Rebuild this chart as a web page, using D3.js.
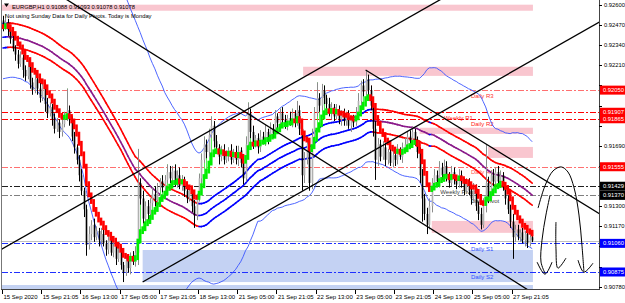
<!DOCTYPE html>
<html lang="en">
<head>
<meta charset="utf-8">
<title>EURGBP H1</title>
<script src="https://cdn.jsdelivr.net/npm/d3@7"></script>
<style>
  body { margin:0; background:#fff; }
  svg { display:block; font-family:"Liberation Sans", Arial, sans-serif; }
</style>
</head>
<body>
<div id="main"></div>
<script>
// ---- data ----
const symbol = "EURGBP,H1";
const headerOHLC = [0.91088, 0.91093, 0.91078, 0.91078];
const note = "Not using Sunday Data for Daily Pivots.  Today is Monday";

const firstOpen = 0.9250;
const closes = [
  .9246,.9249,.9244,.9238,.9232,.9228,.9222,.9226,.9218,.9214,
  .9220,.9210,.9205,.9212,.9206,.9200,.9208,.9196,.9190,.9194,
  .9186,.9180,.9184,.9178,.9183,.9188,.9192,.9186,.9175,.9168,
  .9160,.9150,.9140,.9128,.9105,.9112,.9118,.9110,.9114,.9108,
  .9112,.9106,.9102,.9108,.9100,.9104,.9096,.9100,.9092,.9087,
  .9095,.9090,.9098,.9094,.9100,.9145,.9135,.9122,.9130,.9125,
  .9132,.9138,.9134,.9142,.9146,.9142,.9147,.9152,.9148,.9153,
  .9146,.9150,.9143,.9147,.9140,.9135,.9140,.9130,.9124,.9135,
  .9148,.9160,.9170,.9165,.9176,.9182,.9172,.9168,.9162,.9166,
  .9160,.9163,.9166,.9160,.9164,.9160,.9166,.9158,.9148,.9170,
  .9190,.9178,.9170,.9174,.9168,.9175,.9172,.9178,.9174,.9180,
  .9177,.9188,.9184,.9190,.9186,.9183,.9187,.9184,.9190,.9185,
  .9192,.9180,.9150,.9160,.9170,.9145,.9175,.9190,.9200,.9195,
  .9205,.9200,.9196,.9190,.9194,.9188,.9192,.9186,.9190,.9185,
  .9188,.9182,.9186,.9184,.9190,.9198,.9208,.9204,.9212,.9205,
  .9195,.9180,.9160,.9170,.9162,.9168,.9160,.9165,.9158,.9163,
  .9160,.9166,.9162,.9168,.9170,.9175,.9172,.9178,.9172,.9165,
  .9150,.9135,.9125,.9118,.9130,.9145,.9150,.9146,.9155,.9150,
  .9156,.9150,.9145,.9152,.9148,.9144,.9150,.9146,.9140,.9145,
  .9140,.9135,.9142,.9130,.9125,.9118,.9130,.9145,.9135,.9150,
  .9146,.9152,.9146,.9150,.9142,.9135,.9128,.9120,.9110,.9115,
  .9110,.9113,.9108,.9112,.9106,.9110,.91078
];
// wicks in pips above max(open,close) / below min(open,close)
const upWick = [
  3,5,2,3,4,2,3,4,2,3, 4,2,3,5,2,4,3,2,4,3, 2,4,3,2,5,3,14,3,2,3, 2,3,4,2,3,5,3,4,3,2,
  4,3,2,5,3,4,2,3,4,2, 3,4,2,3,4,22,3,5,3,4, 3,4,5,3,2,4,3,5,4,3, 4,3,5,3,2,4,3,2,4,3,
  3,4,5,3,4,6,3,4,2,3, 4,3,2,4,3,5,3,2,4,5, 7,3,4,2,3,4,3,5,2,4, 3,4,2,3,4,3,2,4,3,2,
  6,3,4,5,3,4,5,4,10,3, 4,3,2,4,3,2,4,3,2,3, 3,4,2,3,4,5,3,4,6,3, 3,4,5,4,3,4,3,2,4,3,
  3,4,2,3,4,3,4,3,2,3, 3,4,3,4,5,3,4,3,4,3, 4,3,2,4,3,2,4,3,2,3, 3,4,3,2,3,4,5,25,4,3,
  4,3,4,3,2,3,2,3,5,3, 3,2,3,2,3,2,1
];
const dnWick = [
  3,2,4,3,2,4,3,2,5,3, 2,4,3,2,4,3,2,5,3,2, 4,3,2,4,3,2,3,4,3,4, 3,4,3,5,7,3,4,3,2,4,
  3,2,4,3,2,3,4,2,3,6, 2,3,4,2,3,8,4,3,2,4, 3,2,4,3,2,3,4,2,3,2, 3,4,2,3,4,3,2,4,8,3,
  2,3,2,4,3,2,4,3,5,3, 3,2,4,3,2,3,4,3,4,2, 3,4,3,2,4,3,2,3,4,2, 3,2,4,3,2,3,4,2,3,4,
  3,4,10,5,3,5,4,3,2,4, 3,4,3,2,4,3,2,3,4,3, 3,2,4,3,2,3,4,3,2,4, 3,5,13,4,3,2,4,3,2,3,
  4,3,2,4,3,2,3,4,3,4, 5,15,4,6,3,4,3,2,4,3, 2,4,3,2,4,3,2,4,3,2, 3,4,2,3,4,3,2,4,3,2,
  3,2,4,3,2,4,3,4,14,3, 2,3,2,4,3,2,1
];
// averages of the bars before the left edge: high, close, low, close std
const preMeans = [0.9248, 0.9239, 0.9232];
const preStd = 0.00135;

const yTicks = [0.92600,0.92470,0.92340,0.92210,0.92080,0.91950,0.91820,0.91690,
                0.91560,0.91430,0.91300,0.91170,0.91040,0.90910,0.90780];
const xLabels = ["15 Sep 2020","15 Sep 21:05","16 Sep 13:00","17 Sep 05:00","17 Sep 21:05",
  "18 Sep 13:00","21 Sep 05:00","21 Sep 21:05","22 Sep 13:00","23 Sep 05:00",
  "23 Sep 21:05","24 Sep 13:00","25 Sep 05:00","27 Sep 21:05"];
const xLabelBars = [0,16,32,48,64,80,96,112,128,144,160,176,192,208];

const pivotNames  = ["Daily R3","Weekly R1","Daily R2","Daily R1","Weekly Pivot","Daily Pivot","Daily S1","Daily S2"];
const pivotValues = [0.92050, 0.91907, 0.91865, 0.91555, 0.91429, 0.91370, 0.91060, 0.90875];
const bidPrice = 0.91078;

// rectangles: [fromBar, toBar, top price, bottom price]
const pinkZones = [[-3,216.3,0.92602,0.92563],[122.5,216.3,0.92201,0.92142],[170,216.3,0.91807,0.91767],
                   [198,216.3,0.91683,0.91612],[175,216.3,0.91205,0.91128]];
const blueZones = [[57,216.3,0.91017,0.90810],[-3,216.3,0.90791,0.90700]];

// trend lines: [bar, price] pairs
const trendA = [[26.1,0.92634],[213.1,0.90771]];
const trendB = [[-1.2,0.91017],[178.4,0.92634]];
const trendC = [[57,0.90810],[243.7,0.92492]];
const trendD = [[148,0.92180],[243.7,0.91249]];

// freehand strokes on the right [bar, price]
const strokes = [
  [[218.4,.91288],[221.2,.91431],[224.5,.91528],[227.8,.91554],[230.6,.91521],[233.1,.91418],[235.1,.91243],[236.3,.91049],[237.1,.90880]],
  [[234.7,.90952],[237.1,.90874],[240.8,.90932]],
  [[223.3,.91372],[221.6,.91243],[220,.91081],[219.6,.90939],[221.2,.90868]],
  [[218,.90939],[221.2,.90861],[224.1,.90939]],
  [[225.7,.91198],[225.7,.91029],[226.5,.90900],[229.8,.90965]]
];

// ---- derived series ----
const N = closes.length, pip = 0.0001, P = 50;
const opens = closes.map((c,i) => i === 0 ? firstOpen : closes[i-1]);
const highs = closes.map((c,i) => Math.max(opens[i], c) + upWick[i]*pip);
const lows  = closes.map((c,i) => Math.min(opens[i], c) - dnWick[i]*pip);

function sma(arr, pre) {
  return arr.map((v,i) => {
    const k = Math.max(0, P-(i+1));
    return (k*pre + d3.sum(arr.slice(Math.max(0,i-P+1), i+1))) / P;
  });
}
const maHigh = sma(highs, preMeans[0]), maClose = sma(closes, preMeans[1]), maLow = sma(lows, preMeans[2]);
const bbStd = closes.map((v,i) => {
  const k = Math.max(0, P-(i+1));
  const sq = d3.sum(closes.slice(Math.max(0,i-P+1), i+1), d => d*d);
  const ex2 = (k*(preStd*preStd + preMeans[1]*preMeans[1]) + sq) / P;
  return Math.sqrt(Math.max(0, ex2 - maClose[i]*maClose[i]));
});
const bbUp = maClose.map((m,i) => m + 2*bbStd[i]);
const bbDn = maClose.map((m,i) => m - 2*bbStd[i]);
const ema = [];
closes.forEach((c,i) => ema.push(i === 0 ? c : ema[i-1] + (c-ema[i-1])*2/9));

// ---- chart ----
const W = 625, H = 303;
const svg = d3.select("#main").append("svg").attr("width", W).attr("height", H);
svg.append("rect").attr("width", W).attr("height", H).attr("fill", "#fff");

const x = d3.scaleLinear().domain([0, 216]).range([3, 3 + 216*2.45]);
const y = d3.scaleLinear().domain([0.9078, 0.9260]).range([286.7, 5]);

svg.append("clipPath").attr("id","plot").append("rect")
  .attr("x",2).attr("y",0).attr("width",597).attr("height",289);
const g = svg.append("g").attr("clip-path","url(#plot)");

// zones
g.selectAll("rect.pink").data(pinkZones).enter().append("rect").attr("class","pink")
  .attr("x", d => x(d[0])).attr("width", d => x(d[1]) - x(d[0]))
  .attr("y", d => y(d[2])).attr("height", d => y(d[3]) - y(d[2]))
  .attr("fill", "#f9c6cf");
g.selectAll("rect.blue").data(blueZones).enter().append("rect").attr("class","blue")
  .attr("x", d => x(d[0])).attr("width", d => x(d[1]) - x(d[0]))
  .attr("y", d => y(d[2])).attr("height", d => y(d[3]) - y(d[2]))
  .attr("fill", "#c4d2f3");

// pivot lines
const pivColor = {"Daily R3":"#ff7070","Weekly R1":"#ff0000","Daily R2":"#ff0000","Daily R1":"#ff7070",
                  "Weekly Pivot":"#202020","Daily Pivot":"#808080","Daily S1":"#2030ff","Daily S2":"#2030ff"};
const tagColor = {"Daily R3":"#ff0000","Weekly R1":"#ff0000","Daily R2":"#ff0000","Daily R1":"#ff0000",
                  "Weekly Pivot":"#000","Daily Pivot":"#000","Daily S1":"#0000ff","Daily S2":"#0000ff"};
const txtColor = {"Daily R3":"#ff3030","Weekly R1":"#ff2020","Daily R2":"#ff2020","Daily R1":"#ff5050",
                  "Weekly Pivot":"#404040","Daily Pivot":"#404040","Daily S1":"#3050ff","Daily S2":"#3050ff"};
const labelBar = {"Weekly R1":180,"Weekly Pivot":178.5};
g.selectAll("line.piv").data(pivotNames).enter().append("line").attr("class","piv")
  .attr("x1", 2).attr("x2", 599)
  .attr("y1", (d,i) => Math.round(y(pivotValues[i]))+0.5).attr("y2", (d,i) => Math.round(y(pivotValues[i]))+0.5)
  .attr("stroke", d => pivColor[d]).attr("stroke-width", 1).attr("stroke-dasharray","6,2,2,2");
g.append("line").attr("x1",2).attr("x2",599)
  .attr("y1", Math.round(y(bidPrice))+0.5).attr("y2", Math.round(y(bidPrice))+0.5)
  .attr("stroke","#c0c0c0");
g.selectAll("text.piv").data(pivotNames).enter().append("text").attr("class","piv")
  .attr("x", d => x(labelBar[d] || 191))
  .attr("y", (d,i) => y(pivotValues[i]) + 7.5)
  .attr("font-size", 6).attr("fill", d => txtColor[d]).text(d => d);

// bollinger
const lineGen = arr => d3.line().x((d,i) => x(i)).y(d => y(d))(arr);
g.append("path").attr("d", lineGen(bbUp)).attr("fill","none").attr("stroke","#3a55ff").attr("stroke-width",0.9);
g.append("path").attr("d", lineGen(bbDn)).attr("fill","none").attr("stroke","#3a55ff").attr("stroke-width",0.9);

// wave lines, red when falling, blue when rising
const segs = d3.range(1, N);
[[maHigh,"#ff0000","#0000ff"],[maLow,"#ff0000","#0000ff"],[maClose,"#8a1a8a","#0000ff"]].forEach(([arr, down, up]) => {
  g.append("g").selectAll("line").data(segs).enter().append("line")
    .attr("x1", i => x(i-1)).attr("x2", i => x(i))
    .attr("y1", i => y(arr[i-1])).attr("y2", i => y(arr[i]))
    .attr("stroke", i => maClose[i] >= maClose[i-1] ? up : down)
    .attr("stroke-width", 1.6).attr("stroke-linecap","round");
});

// thin colour histogram from the fast line to the bar high
const emaUp = i => i === 0 ? false : ema[i] >= ema[i-1];
g.append("g").selectAll("line").data(d3.range(N).filter(i => highs[i] > ema[i])).enter().append("line")
  .attr("x1", i => Math.round(x(i))+0.5).attr("x2", i => Math.round(x(i))+0.5)
  .attr("y1", i => y(ema[i])).attr("y2", i => y(highs[i]))
  .attr("stroke", i => emaUp(i) ? "#55ee55" : "#ff6a6a").attr("stroke-width", 1);

// candles
const cg = g.append("g").selectAll("g").data(d3.range(N)).enter().append("g");
cg.append("line")
  .attr("x1", i => Math.round(x(i))+0.5).attr("x2", i => Math.round(x(i))+0.5)
  .attr("y1", i => y(highs[i])).attr("y2", i => y(lows[i]))
  .attr("stroke", i => closes[i] >= opens[i] ? "#8c8c8c" : "#000").attr("stroke-width", 1);
cg.append("rect")
  .attr("x", i => Math.round(x(i)) - 0.3).attr("width", 1.6)
  .attr("y", i => y(Math.max(opens[i], closes[i])))
  .attr("height", i => Math.max(1, Math.abs(y(opens[i]) - y(closes[i]))))
  .attr("fill", i => closes[i] >= opens[i] ? "#b0b0b0" : "#000");

// thick fast line, stepped like a histogram
g.append("g").selectAll("rect").data(d3.range(N)).enter().append("rect")
  .attr("x", i => x(i) - 1.3).attr("width", 2.6)
  .attr("y", i => Math.min(y(ema[i]), y(ema[Math.max(0,i-1)])) - 2.4)
  .attr("height", i => Math.abs(y(ema[i]) - y(ema[Math.max(0,i-1)])) + 4.8)
  .attr("fill", i => emaUp(i) ? "#00ee00" : "#ff0000");

// trend lines
function slopeOf(t) { return (t[1][1]-t[0][1]) / (t[1][0]-t[0][0]); }
function drawTrend(t, fromStart) {
  const s = slopeOf(t);
  const b0 = fromStart ? t[0][0] : x.invert(0), b1 = x.invert(600);
  g.append("line")
    .attr("x1", x(b0)).attr("y1", y(t[0][1] + s*(b0 - t[0][0])))
    .attr("x2", x(b1)).attr("y2", y(t[0][1] + s*(b1 - t[0][0])))
    .attr("stroke", "#000").attr("stroke-width", 1.3);
}
drawTrend(trendA, false);
drawTrend(trendB, false);
drawTrend(trendC, true);
drawTrend(trendD, true);

// freehand strokes
strokes.forEach(s => {
  g.append("path").attr("d", d3.line().x(d => x(d[0])).y(d => y(d[1])).curve(d3.curveCatmullRom)(s))
    .attr("fill","none").attr("stroke","#000").attr("stroke-width",1);
});

// frame
svg.append("line").attr("x1",1.5).attr("x2",1.5).attr("y1",0).attr("y2",289.5).attr("stroke","#777");
svg.append("line").attr("x1",1).attr("x2",600).attr("y1",289.5).attr("y2",289.5).attr("stroke","#444");
svg.append("line").attr("x1",599.5).attr("x2",599.5).attr("y1",0).attr("y2",290).attr("stroke","#444");

// y axis ticks; labels covered by a price tag are not drawn (as in the terminal)
const freeTicks = yTicks.filter(t => d3.min(pivotValues, p => Math.abs(y(p) - y(t))) > 7.5);
const ya = svg.append("g");
ya.selectAll("line").data(yTicks).enter().append("line")
  .attr("x1",599).attr("x2",602).attr("y1", d => Math.round(y(d))+0.5).attr("y2", d => Math.round(y(d))+0.5)
  .attr("stroke","#000");
ya.selectAll("text").data(freeTicks).enter().append("text")
  .attr("x",604).attr("y", d => y(d) + 2).attr("font-size",5.8).attr("fill","#000")
  .text(d => d.toFixed(5));

// price tags for pivots
const tg = svg.append("g").selectAll("g").data(pivotNames).enter().append("g");
tg.append("rect").attr("x",600).attr("width",25)
  .attr("y", (d,i) => y(pivotValues[i]) - 4.5).attr("height", 9)
  .attr("fill", d => tagColor[d]);
tg.append("text").attr("x",603).attr("y", (d,i) => y(pivotValues[i]) + 2.1)
  .attr("font-size",5.8).attr("fill","#fff").text((d,i) => pivotValues[i].toFixed(5));

// x axis labels
const xa = svg.append("g");
xa.selectAll("line").data(xLabelBars).enter().append("line")
  .attr("x1", d => Math.round(x(d)) - 0.5).attr("x2", d => Math.round(x(d)) - 0.5)
  .attr("y1", 290).attr("y2", 294).attr("stroke","#000");
xa.selectAll("text").data(xLabels).enter().append("text")
  .attr("x", (d,i) => x(xLabelBars[i]) + 0.5).attr("y", 298.5)
  .attr("font-size", 6).attr("fill","#000").text(d => d);

// header
svg.append("path").attr("d","M4,3.5 L9,3.5 L6.5,7 Z").attr("fill","#000");
svg.append("text").attr("x",12).attr("y",8.5).attr("font-size",5.8).attr("fill","#000")
  .text(symbol + "  " + headerOHLC.map(v => v.toFixed(5)).join(" "));
svg.append("text").attr("x",5).attr("y",17.5).attr("font-size",5.8).attr("fill","#000").text(note);
</script>
</body>
</html>
